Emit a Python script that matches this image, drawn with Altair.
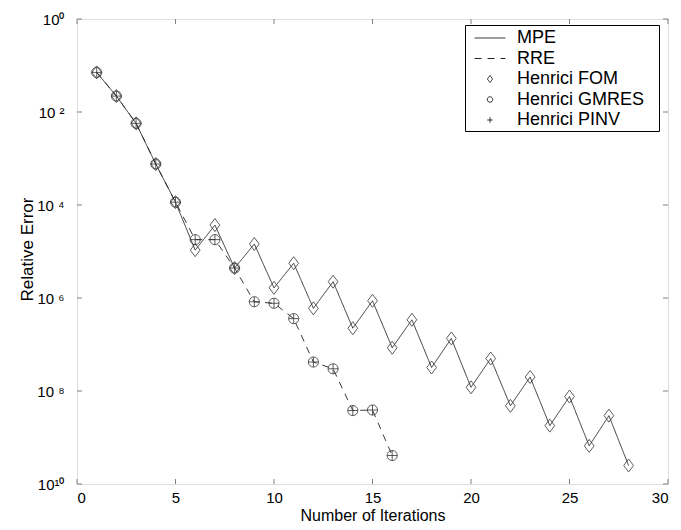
import altair as alt
import pandas as pd

# ---- data ----
iterations_mpe = list(range(1, 29))
mpe_error = [7.1e-2, 2.2e-2, 5.7e-3, 7.6e-4, 1.15e-4, 1.07e-5, 3.7e-5, 4.4e-6,
             1.45e-5, 1.65e-6, 5.6e-6, 6.0e-7, 2.24e-6, 2.24e-7, 8.7e-7, 8.5e-8,
             3.4e-7, 3.2e-8, 1.35e-7, 1.2e-8, 5.0e-8, 4.8e-9, 2.0e-8, 1.8e-9,
             7.6e-9, 6.6e-10, 2.95e-9, 2.5e-10]
iterations_rre = list(range(1, 17))
rre_error = [7.1e-2, 2.2e-2, 5.7e-3, 7.6e-4, 1.15e-4, 1.8e-5, 1.8e-5, 4.4e-6,
             8.3e-7, 7.7e-7, 3.6e-7, 4.2e-8, 3.0e-8, 3.8e-9, 3.9e-9, 4.1e-10]
series_names = ["MPE", "RRE", "Henrici FOM", "Henrici GMRES", "Henrici PINV"]
x_tick_values = [0, 5, 10, 15, 20, 25, 30]
y_tick_values = [1e-10, 1e-8, 1e-6, 1e-4, 1e-2, 1.0]

# ---- tables ----
line_rows = (
    [{"it": i, "err": e, "series": "MPE"} for i, e in zip(iterations_mpe, mpe_error)]
    + [{"it": i, "err": e, "series": "RRE"} for i, e in zip(iterations_rre, rre_error)]
)
point_rows = (
    [{"it": i, "err": e, "series": "Henrici FOM"} for i, e in zip(iterations_mpe, mpe_error)]
    + [{"it": i, "err": e, "series": "Henrici GMRES"} for i, e in zip(iterations_rre, rre_error)]
    + [{"it": i, "err": e, "series": "Henrici PINV"} for i, e in zip(iterations_rre, rre_error)]
)
lines_df = pd.DataFrame(line_rows)
points_df = pd.DataFrame(point_rows)
xt_df = pd.DataFrame({"xt": x_tick_values})
yt_df = pd.DataFrame({"yt": y_tick_values})

W, H = 591, 465
FONT = "Liberation Sans"
GREY = "#808080"

xs = alt.Scale(domain=[0, 30], nice=False, zero=False)
ys = alt.Scale(type="log", domain=[1e-10, 1], nice=False)

LINE = "M-1.47,0L1.47,0"
DIAMOND = "M0,-0.333L0.25,0L0,0.333L-0.25,0Z"
CIRCLE = "M0.26,0A0.26,0.26 0 1,1 -0.26,0A0.26,0.26 0 1,1 0.26,0Z"
PLUS = "M-0.26,0L0.26,0M0,-0.26L0,0.26"

shape_scale = alt.Scale(domain=series_names, range=[LINE, LINE, DIAMOND, CIRCLE, PLUS])
dash_scale = alt.Scale(domain=series_names, range=[[1, 0], [7, 6], [1, 0], [1, 0], [1, 0]])

def make_legend():
    return alt.Legend(
        title="\u00a0", titleOrient="right", titleFontSize=10, titlePadding=13,
        orient="none", legendX=388, legendY=6,
        symbolSize=441, symbolStrokeWidth=1, symbolOffset=12,
        labelOffset=16, labelFontSize=18, labelFont=FONT, labelColor="black",
        padding=2, rowPadding=0.5, strokeColor="black", fillColor="white",
    )

x_axis = alt.Axis(values=x_tick_values, ticks=False, tickSize=0, domain=False, grid=False,
                  labelFontSize=15, labelFont=FONT, labelColor="black", labelPadding=6,
                  title="Number of Iterations", titleFontSize=16, titleFont=FONT,
                  titleFontWeight="normal", titleColor="black", titleY=23)
y_axis = alt.Axis(values=y_tick_values, ticks=False, tickSize=0, domain=False, grid=False,
                  labelFontSize=15, labelFont=FONT, labelColor="black", labelPadding=13,
                  labelExpr="['10\u2070','','10 \u00b2','','10 \u2074','','10 \u2076','','10 \u2078','','10\u00b9\u2070'][round(-log(datum.value)/LN10)]",
                  title="Relative Error", titleFontSize=17, titleFont=FONT,
                  titleFontWeight="normal", titleColor="black", titleX=-41, titleY=230)

lines = alt.Chart(lines_df).mark_line(color="#222222", strokeWidth=0.9).encode(
    x=alt.X("it:Q", scale=xs, axis=x_axis),
    y=alt.Y("err:Q", scale=ys, axis=y_axis),
    strokeDash=alt.StrokeDash("series:N", scale=dash_scale, legend=make_legend()),
)

points = alt.Chart(points_df).mark_point(filled=False, size=1521, color="#333333", strokeWidth=0.8, opacity=1).encode(
    x=alt.X("it:Q", scale=xs),
    y=alt.Y("err:Q", scale=ys),
    shape=alt.Shape("series:N", scale=shape_scale, legend=make_legend()),
)

xt_bottom = alt.Chart(xt_df).mark_rule(color=GREY, strokeWidth=1).encode(
    x=alt.X("xt:Q", scale=xs), y=alt.value(H), y2=alt.value(H - 5))
xt_top = alt.Chart(xt_df).mark_rule(color=GREY, strokeWidth=1).encode(
    x=alt.X("xt:Q", scale=xs), y=alt.value(0), y2=alt.value(5))
yt_left = alt.Chart(yt_df).mark_rule(color=GREY, strokeWidth=1).encode(
    y=alt.Y("yt:Q", scale=ys), x=alt.value(0), x2=alt.value(5))
yt_right = alt.Chart(yt_df).mark_rule(color=GREY, strokeWidth=1).encode(
    y=alt.Y("yt:Q", scale=ys), x=alt.value(W), x2=alt.value(W - 5))

chart = alt.layer(xt_bottom, xt_top, yt_left, yt_right, lines, points).properties(
    width=W, height=H,
    autosize=alt.AutoSizeParams(type="none"),
    padding={"left": 77, "top": 19, "right": 13, "bottom": 46},
    background="white",
).configure_view(stroke=GREY, strokeWidth=1).configure(font=FONT)

chart.save("out.html", embed_options={"renderer": "svg", "actions": False})
